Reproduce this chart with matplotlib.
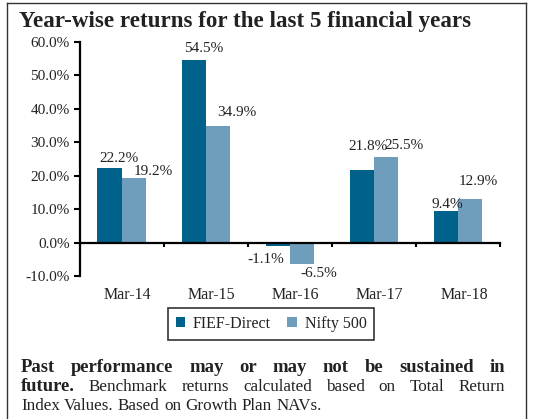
import numpy as np
import matplotlib
matplotlib.use('Agg')
import matplotlib.pyplot as plt
from matplotlib.lines import Line2D
from matplotlib.transforms import ScaledTranslation

plt.rcParams['font.family'] = ['Liberation Serif', 'DejaVu Serif']

categories = ['Mar-14', 'Mar-15', 'Mar-16', 'Mar-17', 'Mar-18']
fief = [22.2, 54.5, -1.1, 21.8, 9.4]
nifty = [19.2, 34.9, -6.5, 25.5, 12.9]
series_names = ['FIEF-Direct', 'Nifty 500']
title = 'Year-wise returns for the last 5 financial years'
note_lines = [
    [('Past performance may or may not be sustained in', 'bold')],
    [('future.', 'bold'), ('Benchmark returns calculated based on Total Return', 'normal')],
    [('Index Values. Based on Growth Plan NAVs.', 'normal')],
]

c_fief = '#00618a'
c_nifty = '#6f9ebc'
txt_c = '#222222'
# label nudges in pixels (dx, dy) as placed in the original
off_fief = [(9, 3), (10, 5), (-12, -7), (6, 17), (1, 0)]
off_nifty = [(20, 0), (19, 7), (17, -3), (18, 5), (8, 11)]

W, H = 535, 419
fig = plt.figure(figsize=(W / 100, H / 100), dpi=100)
ax = fig.add_axes([79.5 / W, 1 - 276 / H, 420.5 / W, 234 / H])

x = np.arange(len(categories))
bw = 0.286
b1 = ax.bar(x - bw / 2, fief, bw, color=c_fief, label=series_names[0])
b2 = ax.bar(x + bw / 2, nifty, bw, color=c_nifty, label=series_names[1])

for bars, vals, offs in [(b1, fief, off_fief), (b2, nifty, off_nifty)]:
    for r, v, (dx, dy) in zip(bars, vals, offs):
        cx = r.get_x() + r.get_width() / 2
        ax.annotate(f'{v:.1f}%', (cx, v), xytext=(dx, dy),
                    textcoords='offset pixels', ha='center',
                    va='bottom' if v >= 0 else 'top', fontsize=11, color=txt_c)

ax.set_xlim(-0.5, len(categories) - 0.5)
ax.set_ylim(-10, 60)
ax.set_yticks(np.arange(-10, 61, 10))
ax.yaxis.set_major_formatter(plt.FuncFormatter(lambda v, p: f'{v:.1f}%'))

for s in ['top', 'right']:
    ax.spines[s].set_visible(False)
ax.spines['left'].set_linewidth(1.6)
ax.spines['bottom'].set_position(('data', 0))
ax.spines['bottom'].set_linewidth(1.6)
ax.set_xticks(np.arange(len(categories) + 1) - 0.5)
ax.set_xticklabels([])
ax.set_xticks(x, categories, minor=True)
ax.tick_params(axis='x', which='major', direction='out', length=3, width=1.5)
ax.tick_params(axis='x', which='minor', length=0, pad=32, labelsize=11.5, labelcolor=txt_c)
ax.tick_params(axis='y', direction='out', length=4, width=1.5, labelsize=11,
               labelcolor=txt_c, pad=3)
shift = ScaledTranslation(6 / 100, 0, fig.dpi_scale_trans)
for lbl in ax.get_xticklabels(minor=True):
    lbl.set_transform(lbl.get_transform() + shift)

leg = ax.legend(loc='center', bbox_to_anchor=(271 / W, 1 - 324 / H),
                bbox_transform=fig.transFigure, ncol=2, frameon=True, fancybox=False,
                edgecolor='black', fontsize=11.5, handlelength=0.6, handleheight=0.6,
                handletextpad=0.5, columnspacing=1.0, borderpad=0.5)
leg.get_frame().set_linewidth(1.2)
for t in leg.get_texts():
    t.set_color(txt_c)

# border of the panel
for xs, ys in [([7, 7], [0, 416]), ([7, 526], [416, 416]), ([526, 526], [416, 0])]:
    fig.add_artist(Line2D(np.array(xs) / W, np.array(ys) / H, color='#333333', lw=1.0))

renderer = fig.canvas.get_renderer()


def fit_size(txt, weight, width):
    t = fig.text(0, 0, txt, fontsize=10, fontweight=weight)
    w = t.get_window_extent(renderer).width
    t.remove()
    return 10 * width / w


fig.text(19 / W, 1 - 27 / H, title, fontsize=fit_size(title, 'bold', 455),
         fontweight='bold', va='baseline', color=txt_c)

note_size = fit_size(note_lines[2][0][0], 'normal', 300)


def place_line(parts, x0, x1, ybase, justify):
    words = []
    for txt, wt in parts:
        for wd in txt.split(' '):
            words.append((wd, wt))
    arts = []
    for wd, wt in words:
        t = fig.text(0, 0, wd, fontsize=note_size * (1.1 if wt == 'bold' else 1.0),
                     fontweight=wt, va='baseline', color=txt_c, transform=None)
        arts.append(t)
    widths = [a.get_window_extent(renderer).width for a in arts]
    if justify:
        gap = (x1 - x0 - sum(widths)) / (len(words) - 1)
    else:
        sp = fig.text(0, 0, 'a b', fontsize=note_size)
        sp2 = fig.text(0, 0, 'ab', fontsize=note_size)
        gap = sp.get_window_extent(renderer).width - sp2.get_window_extent(renderer).width
        sp.remove()
        sp2.remove()
    cx = x0
    for a, w in zip(arts, widths):
        a.set_position((cx, H - ybase))
        cx += w + gap


place_line(note_lines[0], 21, 505, 372, True)
place_line(note_lines[1], 21, 505, 391, True)
place_line(note_lines[2], 21, 505, 410, False)

fig.savefig('out.png', dpi=100)
